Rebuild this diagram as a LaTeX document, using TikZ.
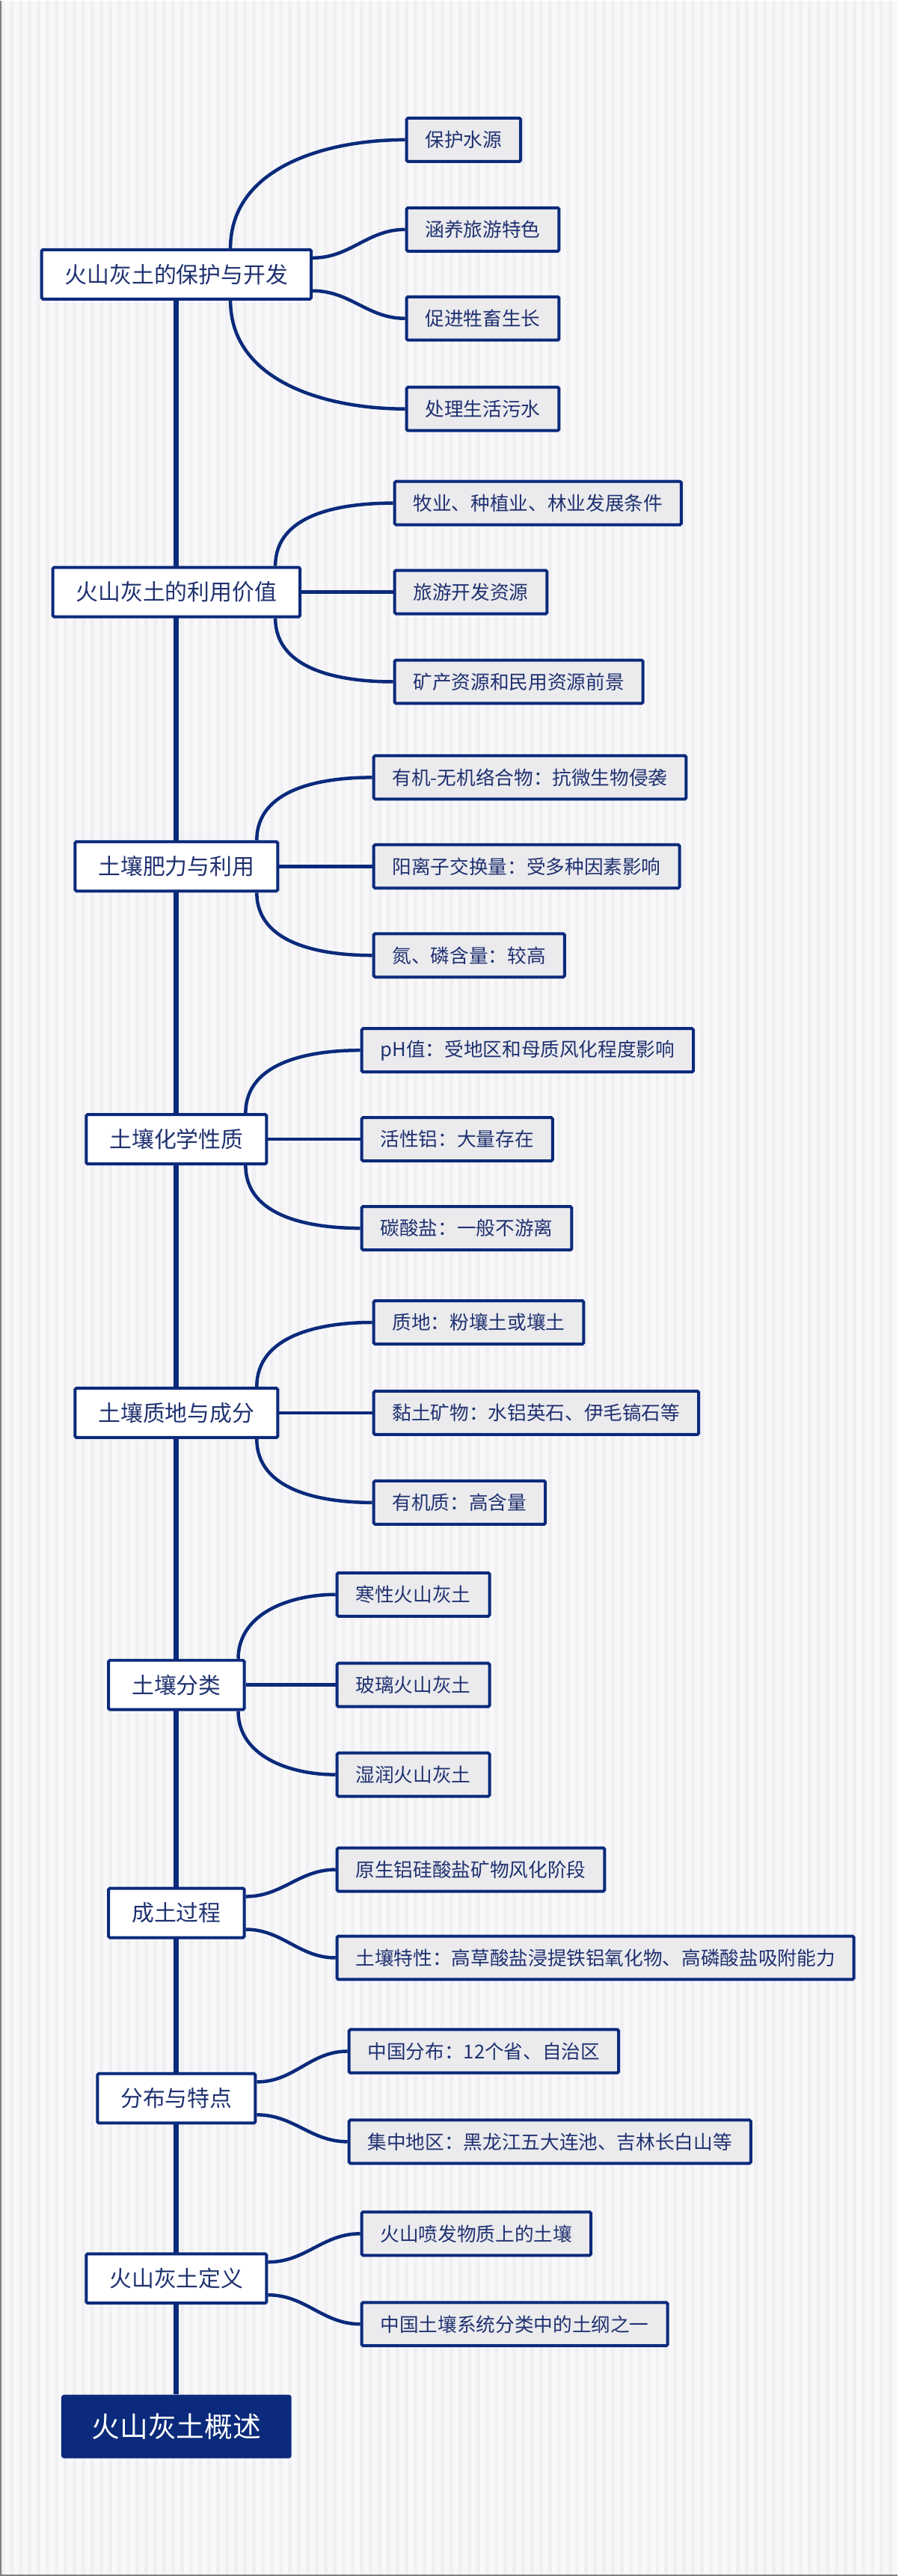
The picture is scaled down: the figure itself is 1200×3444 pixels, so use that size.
\documentclass[tikz,border=0pt]{standalone}
\usepackage{fontspec}
\setmainfont{Noto Sans CJK SC}
\usetikzlibrary{positioning}
\definecolor{navy}{HTML}{0B2A7B}
\definecolor{inknavy}{HTML}{1F3170}
\definecolor{leafgray}{HTML}{EBEBEE}
\definecolor{paper}{HTML}{F8F8FA}
\definecolor{stripe}{HTML}{F0F0F3}

\begin{document}
\begin{tikzpicture}[x=0.02cm,y=-0.02cm]
    \tikzstyle{topic}=[draw=navy, line width=0.08cm, fill=white, text=inknavy, rounded corners=1pt, minimum height=1.32cm, inner xsep=0.62cm, font=\fontsize{17}{20}\selectfont]
    \tikzstyle{leaf}=[draw=navy, line width=0.08cm, fill=leafgray, text=inknavy, rounded corners=1pt, minimum height=1.16cm, inner xsep=0.5cm, anchor=west, font=\fontsize{14.6}{17}\selectfont]
    \tikzstyle{root}=[fill=navy, text=white, rounded corners=2pt, minimum height=1.7cm, minimum width=6.16cm, font=\fontsize{21.5}{25}\selectfont]
    \tikzstyle{branch}=[draw=navy, line width=0.09cm]

    % background
    \fill[paper] (0,0) rectangle (1200,3444);
    \foreach \s in {0,12,...,1190}
        \fill[stripe] (\s,0) rectangle ++(5,3444);
    \draw[gray, line width=0.04cm] (0,0) -- (0,3444) -- (1200,3444);
    \useasboundingbox (0,0) rectangle (1200,3444);

    % trunk
    \node[root] (R) at (235,3245) {火山灰土概述};
    \draw[navy, line width=0.14cm] (235,366) -- (R.north);

%    main topics
    \foreach \i/\y/\t in {1/366/火山灰土的保护与开发, 2/791/火山灰土的利用价值,
        3/1158/土壤肥力与利用, 4/1523/土壤化学性质, 5/1889/土壤质地与成分,
        6/2253/土壤分类, 7/2558/成土过程, 8/2806/分布与特点, 9/3047/火山灰土定义}
        \node[topic] (M-\i) at (235,\y) {\t};

    % leaves: main / x / y / kind / inset / text
    \foreach \i/\m/\x/\y/\k/\d/\t in {
        a/1/541/186/u/110/保护水源, b/1/541/306/a/0/涵养旅游特色,
        c/1/541/425/b/0/促进牲畜生长, d/1/541/546/d/110/处理生活污水,
        e/2/525/672/u/35/{牧业、种植业、林业发展条件}, f/2/525/791/s/0/旅游开发资源,
        g/2/525/911/d/35/矿产资源和民用资源前景,
        h/3/497/1039/u/30/{有机-无机络合物：抗微生物侵袭}, j/3/497/1158/s/0/{阳离子交换量：受多种因素影响},
        k/3/497/1277/d/30/{氮、磷含量：较高},
        l/4/481/1404/u/30/{pH值：受地区和母质风化程度影响}, n/4/481/1523/s/0/{活性铝：大量存在},
        o/4/481/1642/d/30/{碳酸盐：一般不游离},
        p/5/497/1768/u/30/{质地：粉壤土或壤土}, q/5/497/1889/s/0/{黏土矿物：水铝英石、伊毛镐石等},
        r/5/497/2009/d/30/{有机质：高含量},
        t/6/448/2132/u/10/寒性火山灰土, v/6/448/2253/s/0/玻璃火山灰土, w/6/448/2373/d/10/湿润火山灰土,
        x/7/448/2500/a/0/原生铝硅酸盐矿物风化阶段,
        y/7/448/2618/b/0/{土壤特性：高草酸盐浸提铁铝氧化物、高磷酸盐吸附能力},
        z/8/464/2743/a/0/{中国分布：12个省、自治区}, aa/8/464/2864/b/0/{集中地区：黑龙江五大连池、吉林长白山等},
        ab/9/481/2987/a/0/火山喷发物质上的土壤, ac/9/481/3108/b/0/中国土壤系统分类中的土纲之一}{
        \node[leaf] (L-\i) at (\x,\y) {\t};
        \if u\k
            \draw[branch] ([xshift=-\d*0.02cm]M-\m.north east) to[out=90,in=180] (L-\i.west);
        \fi
        \if d\k
            \draw[branch] ([xshift=-\d*0.02cm]M-\m.south east) to[out=-90,in=180] (L-\i.west);
        \fi
        \if s\k
            \draw[branch] (M-\m.east) -- (L-\i.west);
        \fi
        \if a\k
            \draw[branch] ([yshift=0.44cm]M-\m.east) to[out=0,in=180] (L-\i.west);
        \fi
        \if b\k
            \draw[branch] ([yshift=-0.44cm]M-\m.east) to[out=0,in=180] (L-\i.west);
        \fi
    }
\end{tikzpicture}
\end{document}
